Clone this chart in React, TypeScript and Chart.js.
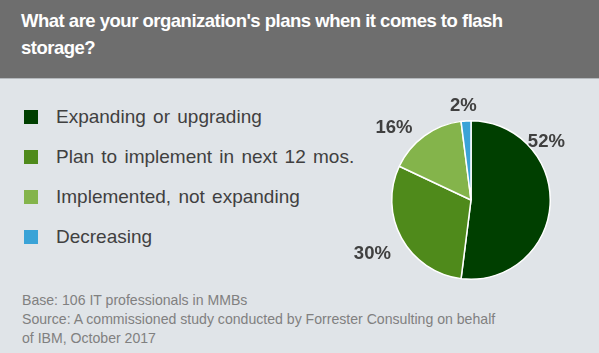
import React, { useEffect, useRef } from "react";
import { Chart, registerables } from "chart.js";

Chart.register(...registerables);

const TITLE = "What are your organization's plans when it comes to flash storage?";
const categories = [
  "Expanding or upgrading",
  "Plan to implement in next 12 mos.",
  "Implemented, not expanding",
  "Decreasing",
];
const values = [52, 30, 16, 2];
const colors = ["#003f00", "#4f8a1b", "#84b44b", "#3aa3d7"];
const footerLines = [
  "Base: 106 IT professionals in MMBs",
  "Source: A commissioned study conducted by Forrester Consulting on behalf",
  "of IBM, October 2017",
];

// label placement: fraction along each arc and radial distance factor
const labelFrac = [0.28, 0.5, 0.31, 0.35];
const labelDist = [1.2, 1.42, 1.33, 1.19];

const labelPlugin = {
  id: "pctLabels",
  afterDatasetsDraw(chart: any) {
    const ctx = chart.ctx;
    const meta = chart.getDatasetMeta(0);
    ctx.save();
    ctx.font = "bold 18.5px 'Liberation Sans', Arial, sans-serif";
    ctx.fillStyle = "#404040";
    ctx.textAlign = "center";
    ctx.textBaseline = "middle";
    meta.data.forEach((arc: any, i: number) => {
      const { x, y, startAngle, endAngle, outerRadius } = arc.getProps(
        ["x", "y", "startAngle", "endAngle", "outerRadius"],
        true
      );
      const a = startAngle + (endAngle - startAngle) * labelFrac[i];
      const r = outerRadius * labelDist[i];
      ctx.fillText(values[i] + "%", x + Math.cos(a) * r, y + Math.sin(a) * r);
    });
    ctx.restore();
  },
};

export default function App() {
  const ref = useRef<HTMLCanvasElement>(null);
  useEffect(() => {
    if (!ref.current) return;
    const chart = new Chart(ref.current, {
      type: "pie",
      data: {
        labels: categories,
        datasets: [
          {
            data: values,
            backgroundColor: colors,
            borderColor: "#ffffff",
            borderWidth: 1.5,
          },
        ],
      },
      options: {
        animation: false,
        responsive: false,
        events: [],
        layout: { padding: { left: 51, right: 48, top: 30, bottom: 20 } },
        plugins: { legend: { display: false }, tooltip: { enabled: false } },
      },
      plugins: [labelPlugin],
    });
    return () => chart.destroy();
  }, []);

  const font = "'Liberation Sans', Arial, sans-serif";
  return (
    <div
      style={{
        position: "fixed",
        left: 0,
        top: 0,
        width: 599,
        height: 353,
        background: "#e0e4e8",
        overflow: "hidden",
        fontFamily: font,
      }}
    >
      <div
        style={{
          position: "absolute",
          left: 0,
          top: 0,
          width: 599,
          height: 78,
          background: "#6e6e6e",
          borderBottom: "1px solid #b4b8bc",
        }}
      >
        <div
          style={{
            position: "absolute",
            left: 21,
            top: 7,
            width: 560,
            color: "#ffffff",
            fontWeight: "bold",
            fontSize: 18.5,
            letterSpacing: -0.5,
            lineHeight: "27px",
          }}
        >
          {TITLE}
        </div>
      </div>
      {categories.map((c, i) => (
        <div key={c}>
          <div
            style={{
              position: "absolute",
              left: 24,
              top: 110 + i * 40,
              width: 14,
              height: 14,
              background: colors[i],
            }}
          />
          <div
            style={{
              position: "absolute",
              left: 56,
              top: 105 + i * 40,
              fontSize: 19,
              lineHeight: "24px",
              color: "#404040",
              whiteSpace: "nowrap",
              wordSpacing: 2,
            }}
          >
            {c}
          </div>
        </div>
      ))}
      <div
        style={{
          position: "absolute",
          left: 22,
          top: 291,
          fontSize: 14.1,
          lineHeight: "19px",
          color: "#808080",
          whiteSpace: "nowrap",
        }}
      >
        {footerLines.map((l) => (
          <div key={l}>{l}</div>
        ))}
      </div>
      <canvas
        ref={ref}
        width={259}
        height={210}
        style={{ position: "absolute", left: 340, top: 90, width: 259, height: 210 }}
      />
    </div>
  );
}
